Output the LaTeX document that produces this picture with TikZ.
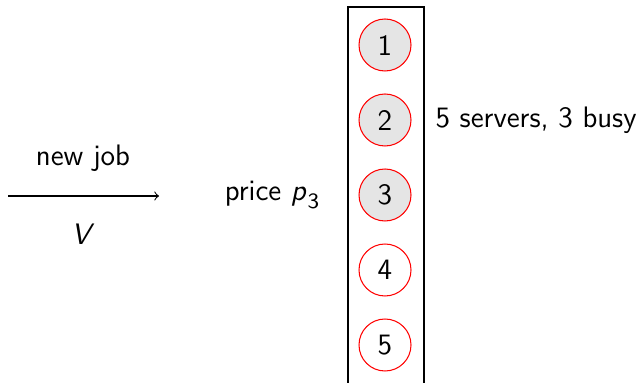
\documentclass[tikz,border=0pt]{standalone}
\usepackage{fontspec}
\renewcommand{\familydefault}{\sfdefault}
\newcommand{\slvar}[1]{\textsl{#1}}
\begin{document}
\begin{tikzpicture}[x=0.385pt,y=-0.385pt,
  font=\sffamily\fontsize{11.4}{13}\selectfont,
  server/.style={circle,draw=red,minimum size={52*0.385pt},inner sep=0pt},
  busy/.style={server,fill=gray!20},
  idle/.style={server,fill=white},
  lbl/.style={inner sep=0pt}]
\useasboundingbox (0,0) rectangle (641,383);

% server rack (open at the bottom)
\draw[line width=0.5pt] (348,383) -- (348,7) -- (424,7) -- (424,383);

% servers
\node[busy] (s1) at (385,45) {1};
\node[busy] (s2) at (385,120) {2};
\node[busy] (s3) at (385,195) {3};
\node[idle] (s4) at (385,270) {4};
\node[idle] (s5) at (385,345) {5};

% arrival of a job
\coordinate (src) at (8,196);
\coordinate (dst) at (159,196);
\draw[->] (src) -- (dst);
\node[lbl] (newjob) at (83,158) {new job};
\node[lbl] (val) at (83,234) {\slvar{V}};

% posted price and state
\node[lbl] (price) at (272,195) {price \slvar{p}\kern0.3pt\raisebox{-0.3em}{\fontsize{8.4}{9}\selectfont 3}};
\node[lbl,anchor=west] (state) at (435,120) {5 servers, 3 busy};
\end{tikzpicture}
\end{document}
